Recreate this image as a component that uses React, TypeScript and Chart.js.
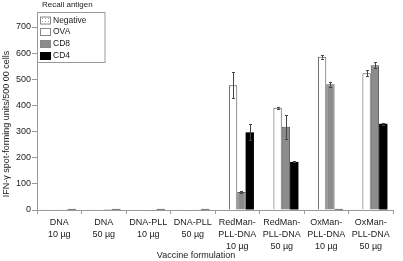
import React, { useEffect, useRef } from "react";
import { Chart, registerables } from "chart.js";

Chart.register(...registerables);

const categories: string[][] = [
  ["DNA", "10 µg"],
  ["DNA", "50 µg"],
  ["DNA-PLL", "10 µg"],
  ["DNA-PLL", "50 µg"],
  ["RedMan-", "PLL-DNA", "10 µg"],
  ["RedMan-", "PLL-DNA", "50 µg"],
  ["OxMan-", "PLL-DNA", "10 µg"],
  ["OxMan-", "PLL-DNA", "50 µg"],
];

const seriesNames = ["Negative", "OVA", "CD8", "CD4"];
const negative = [1, 1, 1, 1, 1, 1, 1, 1];
const ova = [3, 3, 2, 2, 477, 391, 586, 523];
const cd8 = [3, 4, 2, 3, 69, 318, 481, 554];
const cd4 = [4, 4, 4, 4, 297, 184, 4, 330];
const negativeErr = [0, 0, 0, 0, 0, 0, 0, 0];
const ovaErr = [0, 0, 0, 0, 50, 3, 7, 12];
const cd8Err = [0, 0, 0, 0, 3, 45, 9, 11];
const cd4Err = [0, 0, 0, 0, 31, 2, 0, 3];
const yTicks = [0, 100, 200, 300, 400, 500, 600, 700];

const yTitle = "IFN-γ spot-forming units/500 00 cells";
const xTitle = "Vaccine formulation";
const legendTitle = "Recall antigen";

const FONT = "'Liberation Sans', Arial, sans-serif";
const TEXT = "#222";
const AXIS = "#999";

function makePattern(): CanvasPattern | string {
  const c = document.createElement("canvas");
  c.width = 3;
  c.height = 3;
  const x = c.getContext("2d");
  if (!x) return "#ddd";
  x.fillStyle = "#fff";
  x.fillRect(0, 0, 3, 3);
  x.fillStyle = "#aaa";
  x.fillRect(0, 0, 1, 1);
  const p = x.createPattern(c, "repeat");
  return p || "#ddd";
}

export default function App() {
  const ref = useRef<HTMLCanvasElement | null>(null);

  useEffect(() => {
    document.body.style.margin = "0";
    const canvas = ref.current;
    if (!canvas) return;
    const pattern = makePattern();
    const errs = [negativeErr, ovaErr, cd8Err, cd4Err];

    const errorBars = {
      id: "errorBars",
      afterDatasetsDraw(chart: any) {
        const ctx = chart.ctx;
        const y = chart.scales.y;
        ctx.save();
        ctx.strokeStyle = "#444";
        ctx.lineWidth = 1;
        chart.data.datasets.forEach((ds: any, di: number) => {
          const meta = chart.getDatasetMeta(di);
          meta.data.forEach((bar: any, i: number) => {
            const e = errs[di][i];
            if (!e) return;
            const v = ds.data[i];
            const x = Math.round(bar.x) + 0.5;
            const yt = y.getPixelForValue(v + e);
            const yb = y.getPixelForValue(v - e);
            ctx.beginPath();
            ctx.moveTo(x, yt);
            ctx.lineTo(x, yb);
            ctx.moveTo(x - 1.5, Math.round(yt) + 0.5);
            ctx.lineTo(x + 1.5, Math.round(yt) + 0.5);
            ctx.moveTo(x - 1.5, Math.round(yb) + 0.5);
            ctx.lineTo(x + 1.5, Math.round(yb) + 0.5);
            ctx.stroke();
          });
        });
        ctx.restore();
      },
    };

    const decorations = {
      id: "decorations",
      afterDraw(chart: any) {
        const ctx = chart.ctx;
        ctx.save();
        // legend
        ctx.fillStyle = "#fff";
        ctx.fillRect(37.5, 12.5, 67.5, 50);
        ctx.strokeStyle = AXIS;
        ctx.lineWidth = 1;
        ctx.strokeRect(37.5, 12.5, 67.5, 50);
        ctx.fillStyle = TEXT;
        ctx.font = `8px ${FONT}`;
        ctx.textBaseline = "middle";
        ctx.textAlign = "left";
        ctx.fillText(legendTitle, 42, 5);
        const rows = [20.5, 32, 44, 56];
        chart.data.datasets.forEach((ds: any, i: number) => {
          const cy = rows[i];
          ctx.fillStyle = ds.backgroundColor;
          ctx.fillRect(40, cy - 4, 11, 8);
          ctx.strokeStyle = i === 3 ? "#000" : "#888";
          ctx.strokeRect(40.5, cy - 3.5, 10, 7);
          ctx.fillStyle = TEXT;
          ctx.font = `8.5px ${FONT}`;
          ctx.fillText(ds.label, 53, cy);
        });
        // axis titles
        ctx.font = `9px ${FONT}`;
        ctx.fillStyle = TEXT;
        ctx.textAlign = "center";
        ctx.fillText(xTitle, 196, 256);
        ctx.translate(7, 124);
        ctx.rotate(-Math.PI / 2);
        ctx.fillText(yTitle, 0, 0);
        ctx.restore();
      },
    };

    const chart = new Chart(canvas, {
      type: "bar",
      data: {
        labels: categories,
        datasets: [
          { label: seriesNames[0], data: negative, backgroundColor: pattern as any, borderColor: "#888", borderWidth: 1 },
          { label: seriesNames[1], data: ova, backgroundColor: "#ffffff", borderColor: "#555", borderWidth: 1 },
          { label: seriesNames[2], data: cd8, backgroundColor: "#8c8c8c", borderColor: "#555", borderWidth: 1 },
          { label: seriesNames[3], data: cd4, backgroundColor: "#000000", borderColor: "#000", borderWidth: 0 },
        ],
      },
      options: {
        animation: false,
        responsive: false,
        maintainAspectRatio: false,
        layout: { padding: { top: 27, right: 10, left: 0, bottom: 0 } },
        categoryPercentage: 0.75,
        barPercentage: 1,
        plugins: {
          legend: { display: false },
          tooltip: { enabled: false },
          title: { display: false },
        },
        scales: {
          x: {
            grid: { display: true, drawOnChartArea: false, tickLength: 4, color: AXIS, offset: true },
            border: { color: AXIS },
            ticks: {
              color: TEXT,
              font: { family: FONT, size: 9, lineHeight: 1.3 },
              padding: 3,
              maxRotation: 0,
              autoSkip: false,
            },
            afterFit: (s: any) => {
              s.height = 51;
            },
          },
          y: {
            min: 0,
            max: 700,
            afterBuildTicks: (s: any) => {
              s.ticks = yTicks.map((v) => ({ value: v }));
            },
            grid: { display: true, drawOnChartArea: false, tickLength: 5, color: AXIS },
            border: { color: AXIS },
            ticks: {
              color: TEXT,
              font: { family: FONT, size: 9 },
              padding: 1,
            },
            afterFit: (s: any) => {
              s.width = 37;
            },
          },
        },
      } as any,
      plugins: [errorBars, decorations],
    });
    return () => chart.destroy();
  }, []);

  return (
    <div style={{ width: 403, height: 261, position: "relative", background: "#fff" }}>
      <canvas ref={ref} width={403} height={261} style={{ display: "block" }} />
    </div>
  );
}
